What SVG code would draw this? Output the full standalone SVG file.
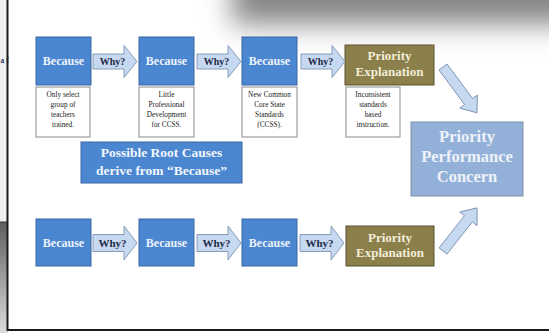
<svg xmlns="http://www.w3.org/2000/svg" width="549" height="333" viewBox="0 0 549 333">
  <defs>
    <style>
      .serif { font-family: "Liberation Serif", "Times New Roman", serif; font-weight: bold; text-anchor: middle; }
      .because rect { fill: #4b87d1; stroke: #3a67a3; stroke-width: 1; }
      .because text { font-size: 12px; fill: #eef3fb; }
      .expl rect { fill: #8b7f4b; stroke: #5b532e; stroke-width: 1; }
      .expl text { font-size: 13px; fill: #f2eed8; }
      .note rect { fill: #ffffff; stroke: #8a8a8a; stroke-width: 1; }
      .note text { font-family: "Liberation Serif", "Times New Roman", serif; font-size: 7.3px; fill: #222222; text-anchor: middle; }
      .arrow { fill: #c6d9f1; stroke: #7d93b2; stroke-width: 0.9; }
      .why text { fill: #1d2a48; }
    </style>
    <linearGradient id="edgeShade" x1="0" y1="0" x2="0" y2="1">
      <stop offset="0" stop-color="#5e5e5e"/>
      <stop offset="1" stop-color="#dcdcdc"/>
    </linearGradient>
    <filter id="soft" x="-30%" y="-100%" width="160%" height="300%">
      <feGaussianBlur stdDeviation="14"/>
    </filter>
    <!-- right-pointing block arrows for the "Why?" steps; fill comes from the <use> -->
    <polygon id="whyTop" points="0,-7.5 31,-7.5 31,-16 44,0 31,16 31,7.5 0,7.5"/>
    <polygon id="whyBot" points="0,-8.5 31,-8.5 31,-17 44,0 31,17 31,8.5 0,8.5"/>
  </defs>

  <!-- page background and window chrome -->
  <rect x="0" y="0" width="549" height="333" fill="#ffffff"/>
  <rect x="0" y="0" width="8" height="222" fill="#efefef"/>
  <rect x="0" y="222" width="8" height="111" fill="url(#edgeShade)"/>
  <line x1="0" y1="222" x2="8" y2="222" stroke="#333" stroke-width="1"/>
  <text x="0.5" y="63" font-family="Liberation Serif, serif" font-size="7.5" font-weight="bold" fill="#2b3b6b">a f</text>
  <rect x="232" y="-30" width="360" height="54" fill="#858585" filter="url(#soft)"/>
  <line x1="7.5" y1="0" x2="7.5" y2="331" stroke="#1a1a1a" stroke-width="2"/>
  <line x1="7" y1="330" x2="549" y2="330" stroke="#1a1a1a" stroke-width="2"/>

  <!-- top chain -->
  <g id="because-top-1" class="because serif">
    <rect x="36" y="37" width="55" height="48"/>
    <text x="63.5" y="65">Because</text>
  </g>
  <g id="because-top-2" class="because serif">
    <rect x="139" y="37" width="55" height="48"/>
    <text x="166.5" y="65">Because</text>
  </g>
  <g id="because-top-3" class="because serif">
    <rect x="242" y="37" width="55" height="48"/>
    <text x="269.5" y="65">Because</text>
  </g>
  <g id="explanation-top" class="expl serif">
    <rect x="345" y="45" width="89" height="40"/>
    <text x="389.5" y="60">Priority</text>
    <text x="389.5" y="75.5">Explanation</text>
  </g>

  <g id="note-1" class="note">
    <rect x="36" y="87" width="54" height="50"/>
    <text x="63" y="96.5">Only select</text>
    <text x="63" y="106.5">group of</text>
    <text x="63" y="116.5">teachers</text>
    <text x="63" y="126.5">trained.</text>
  </g>
  <g id="note-2" class="note">
    <rect x="139" y="87" width="55" height="50"/>
    <text x="166.5" y="96.5">Little</text>
    <text x="166.5" y="106.5">Professional</text>
    <text x="166.5" y="116.5">Development</text>
    <text x="166.5" y="126.5">for CCSS.</text>
  </g>
  <g id="note-3" class="note">
    <rect x="242" y="87" width="55" height="50"/>
    <text x="269.5" y="96.5">New Common</text>
    <text x="269.5" y="106.5">Core State</text>
    <text x="269.5" y="116.5">Standards</text>
    <text x="269.5" y="126.5">(CCSS).</text>
  </g>
  <g id="note-4" class="note">
    <rect x="346" y="87" width="54" height="50"/>
    <text x="373" y="96.5">Inconsistent</text>
    <text x="373" y="106.5">standards</text>
    <text x="373" y="116.5">based</text>
    <text x="373" y="126.5">instruction.</text>
  </g>

  <g id="root-causes" class="serif">
    <rect x="81" y="142" width="161" height="41" fill="#4b87d1" stroke="#3a67a3" stroke-width="1"/>
    <text x="161.5" y="157" font-size="13.5" fill="#f2f6fc">Possible Root Causes</text>
    <text x="161.5" y="175" font-size="13.5" fill="#f2f6fc">derive from “Because”</text>
  </g>

  <g id="performance-concern" class="serif">
    <rect x="411" y="122" width="112" height="74" fill="#93b1d8" stroke="#7f91a8" stroke-width="1"/>
    <text x="467" y="142" font-size="16.5" fill="#eef2f9">Priority</text>
    <text x="467" y="162" font-size="16.5" fill="#eef2f9">Performance</text>
    <text x="467" y="182" font-size="16.5" fill="#eef2f9">Concern</text>
  </g>

  <!-- bottom chain -->
  <g id="because-bot-1" class="because serif">
    <rect x="36" y="219" width="55" height="47"/>
    <text x="63.5" y="247">Because</text>
  </g>
  <g id="because-bot-2" class="because serif">
    <rect x="139" y="219" width="55" height="47"/>
    <text x="166.5" y="247">Because</text>
  </g>
  <g id="because-bot-3" class="because serif">
    <rect x="242" y="219" width="55" height="47"/>
    <text x="269.5" y="247">Because</text>
  </g>
  <g id="explanation-bot" class="expl serif">
    <rect x="346" y="226" width="88" height="40"/>
    <text x="390" y="241.5">Priority</text>
    <text x="390" y="257">Explanation</text>
  </g>

  <!-- connectors -->
  <g id="connectors">
    <g class="why serif" font-size="10">
      <use class="arrow" href="#whyTop" x="93" y="61.5"/>
      <text x="112.5" y="65">Why?</text>
      <use class="arrow" href="#whyTop" x="197" y="61.5"/>
      <text x="216.5" y="65">Why?</text>
      <use class="arrow" href="#whyTop" x="301" y="61.5"/>
      <text x="320.5" y="65">Why?</text>
    </g>
    <g class="why serif" font-size="11">
      <use class="arrow" href="#whyBot" x="93" y="243"/>
      <text x="112.5" y="247">Why?</text>
      <use class="arrow" href="#whyBot" x="197" y="243"/>
      <text x="216.5" y="247">Why?</text>
      <use class="arrow" href="#whyBot" x="300" y="243"/>
      <text x="319.5" y="247">Why?</text>
    </g>
    <!-- diagonal arrows into the concern box -->
    <polygon class="arrow" transform="translate(443,67) rotate(53.5)" points="0,-5 43,-5 43,-11 57,0 43,11 43,5 0,5"/>
    <polygon class="arrow" transform="translate(443,251) rotate(-51.7)" points="0,-5 41,-5 41,-11 55,0 41,11 41,5 0,5"/>
  </g>
</svg>
